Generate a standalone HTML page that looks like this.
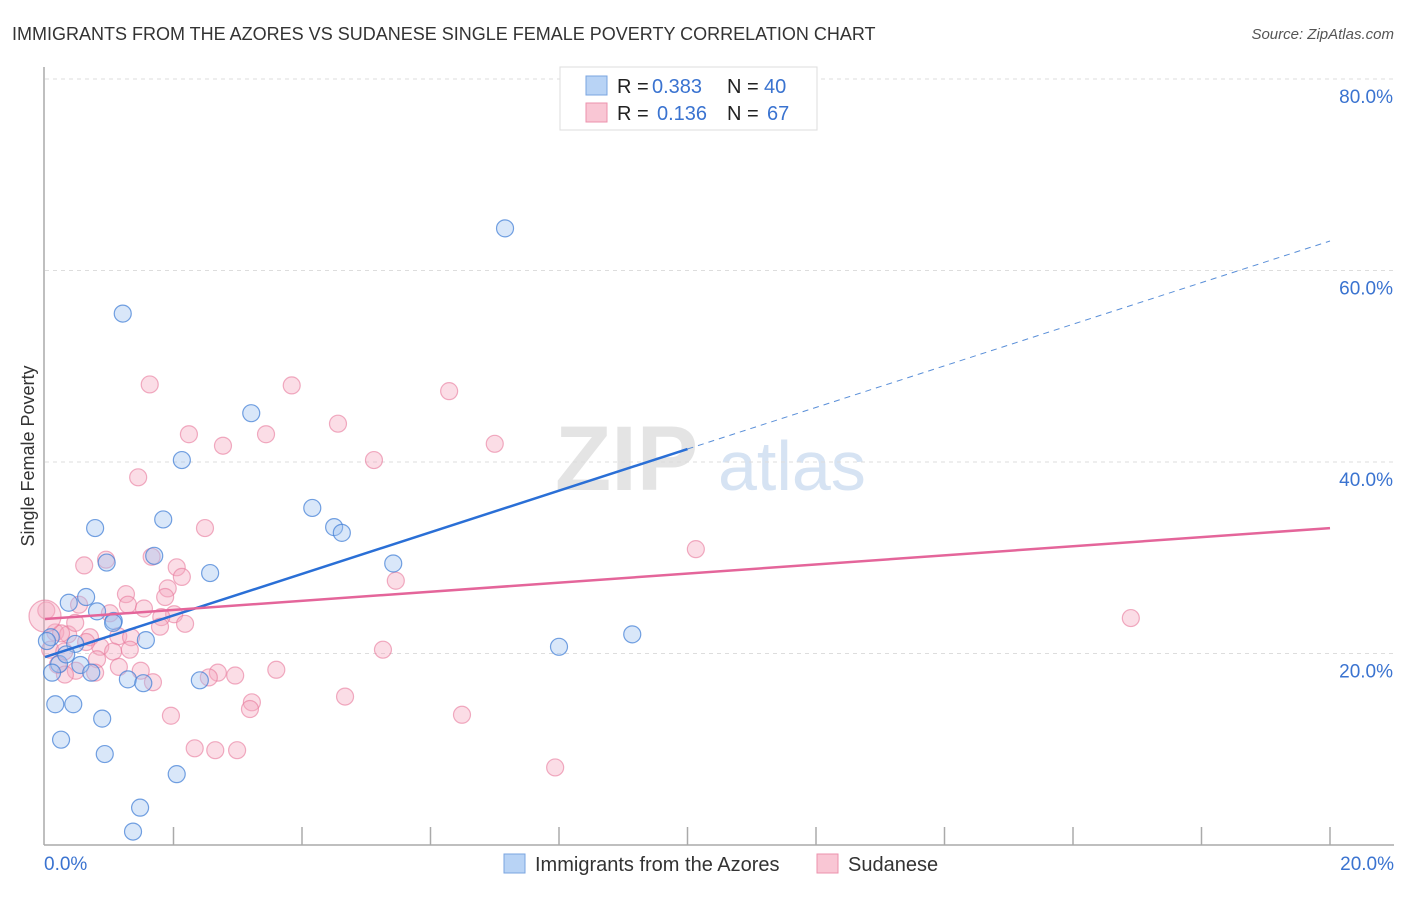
<!DOCTYPE html>
<html><head><meta charset="utf-8">
<style>
body{margin:0;background:#fff;font-family:"Liberation Sans",sans-serif;}
svg text{font-family:"Liberation Sans",sans-serif;}
</style></head>
<body>
<svg id="chart" width="1406" height="892" xmlns="http://www.w3.org/2000/svg">
<text x="12" y="40" font-size="18" fill="#333">IMMIGRANTS FROM THE AZORES VS SUDANESE SINGLE FEMALE POVERTY CORRELATION CHART</text>
<text x="1394" y="39" font-size="15" fill="#555" text-anchor="end" font-style="italic">Source: ZipAtlas.com</text>
<text transform="translate(34,456) rotate(-90)" font-size="18" fill="#333" text-anchor="middle">Single Female Poverty</text>
<g>
<text x="555" y="490" font-size="92" fill="#e4e4e4" font-family="Liberation Serif" font-weight="bold">ZIP</text>
<text x="718" y="490" font-size="70" fill="#d6e3f3">atlas</text>
</g>
<g id="grid"></g>
<g id="axes"></g>
<g id="points"></g>
<g id="trends"></g>
<g>
<rect x="560" y="67" width="257" height="63" fill="#fff" stroke="#ddd"/>
<rect x="586" y="76" width="21" height="19" fill="#b8d3f5" stroke="#7aa5e0"/>
<rect x="586" y="103" width="21" height="19" fill="#f9c6d4" stroke="#ec92ad"/>
<text x="617" y="93" font-size="20" fill="#222">R =</text>
<text x="652" y="93" font-size="20" fill="#3a73d0">0.383</text>
<text x="727" y="93" font-size="20" fill="#222">N =</text>
<text x="764" y="93" font-size="20" fill="#3a73d0">40</text>
<text x="617" y="120" font-size="20" fill="#222">R =</text>
<text x="657" y="120" font-size="20" fill="#3a73d0">0.136</text>
<text x="727" y="120" font-size="20" fill="#222">N =</text>
<text x="767" y="120" font-size="20" fill="#3a73d0">67</text>
</g>
<g>
<rect x="504" y="854" width="21" height="19" fill="#b8d3f5" stroke="#7aa5e0"/>
<text x="535" y="871" font-size="20" fill="#333">Immigrants from the Azores</text>
<rect x="817" y="854" width="21" height="19" fill="#f9c6d4" stroke="#ec92ad"/>
<text x="848" y="871" font-size="20" fill="#333">Sudanese</text>
</g>
</svg>
<script>
const yTicks=[20,40,60,80];
const yTickLabels=["20.0%","40.0%","60.0%","80.0%"];
const xEndLabels=["0.0%","20.0%"];
const azoresX=[1.21,7.16,3.21,2.13,1.84,4.16,4.50,4.62,0.78,1.70,0.96,5.42,2.57,0.64,0.37,0.81,1.07,1.06,1.57,0.09,0.47,0.22,0.55,0.72,0.11,1.29,1.53,2.41,8.00,9.14,0.16,0.44,0.89,0.25,0.93,2.05,1.48,1.37,0.03,0.33];
const azoresY=[55.5,64.4,45.1,40.2,34.0,35.2,33.2,32.6,33.1,30.2,29.5,29.4,28.4,25.9,25.3,24.4,23.4,23.2,21.4,21.7,21.0,18.9,18.8,18.0,18.0,17.3,16.9,17.2,20.7,22.0,14.7,14.7,13.2,11.0,9.5,7.4,3.9,1.4,21.3,19.9];
const sudX=[1.63,3.84,6.29,4.56,2.24,3.44,2.77,7.00,5.12,1.45,2.49,10.13,0.95,1.66,0.61,2.05,2.13,5.46,1.91,1.26,1.87,0.53,1.29,1.54,2.01,1.81,2.18,1.01,0.02,0.16,0.36,0.70,1.14,1.34,1.79,0.86,1.06,0.08,0.30,5.26,16.90,0.20,0.48,0.81,1.15,1.49,0.78,0.31,2.69,2.55,2.96,3.60,1.68,4.67,3.22,3.19,1.96,6.49,2.33,2.65,2.99,7.94,0.25,0.0,0.64,0.47,1.32];
const sudY=[48.1,48.0,47.4,44.0,42.9,42.9,41.7,41.9,40.2,38.4,33.1,30.9,29.8,30.1,29.2,29.0,28.0,27.6,26.8,26.2,25.9,25.1,25.1,24.7,24.1,23.8,23.1,24.2,24.5,22.2,22.0,21.7,21.8,21.7,22.8,20.7,20.2,20.4,20.2,20.4,23.7,18.8,18.2,19.4,18.6,18.2,18.0,17.8,18.0,17.5,17.7,18.3,17.0,15.5,14.9,14.2,13.5,13.6,10.1,9.9,9.9,8.1,22.1,23.9,21.2,23.2,20.4];
const azoresTrend=[19.63,63.08];
const sudTrend=[23.6,33.1];
const NS="http://www.w3.org/2000/svg";
const X0=45,X1=1330,Y0=845,PX20=191.5;
function sx(v){return X0+v/20*(X1-X0);}
function sy(v){return Y0-v/20*PX20;}
function mk(t,a,p){const e=document.createElementNS(NS,t);for(const k in a)e.setAttribute(k,a[k]);p.appendChild(e);return e;}
const grid=document.getElementById('grid');
yTicks.forEach((t,i)=>{
 const l=mk('line',{x1:X0,x2:1394,y1:sy(t),y2:sy(t),stroke:'#ddd','stroke-dasharray':'4,4'},grid);
 
 
 const tx=mk('text',{x:1393,y:sy(t)+24,'font-size':19,fill:'#3a73d0','text-anchor':'end'},grid);
 tx.textContent=yTickLabels[i];
 
 
});
const axes=document.getElementById('axes');
const ya=mk('line',{x1:X0-1,x2:X0-1,y1:67,y2:Y0,stroke:'#aaa','stroke-width':1.5},axes);


const xa=mk('line',{x1:X0-1,x2:1394,y1:Y0,y2:Y0,stroke:'#aaa','stroke-width':1.5},axes);


for(let i=1;i<=10;i++){
 const tk=mk('line',{x1:sx(i*2),x2:sx(i*2),y1:Y0-18,y2:Y0,stroke:'#aaa','stroke-width':1.5},axes);
 
 
}
[[0,'start',44],[20,'end',1394]].forEach((d,i)=>{
 const t=mk('text',{x:d[2],y:870,'font-size':19,fill:'#3a73d0','text-anchor':d[1]},axes);
 t.textContent=xEndLabels[i];
 
 
});
const pts=document.getElementById('points');
sudX.forEach((x,i)=>{
 const c=mk('circle',{cx:sx(x),cy:sy(sudY[i]),r:(i==63?16:8.5),fill:'rgba(246,170,192,0.4)',stroke:'rgba(232,120,155,0.6)','stroke-width':1.2},pts);
 
 
});
azoresX.forEach((x,i)=>{
 const c=mk('circle',{cx:sx(x),cy:sy(azoresY[i]),r:8.5,fill:'rgba(160,195,240,0.4)',stroke:'rgba(70,130,215,0.75)','stroke-width':1.2},pts);
 
 
});
const tr=document.getElementById('trends');
const xm=10;
const ym=azoresTrend[0]+(azoresTrend[1]-azoresTrend[0])*xm/20;
let l1=mk('line',{x1:sx(0),y1:sy(azoresTrend[0]),x2:sx(xm),y2:sy(ym),stroke:'#2a6fd6','stroke-width':2.5},tr);


let l2=mk('line',{x1:sx(xm),y1:sy(ym),x2:sx(20),y2:sy(azoresTrend[1]),stroke:'#5a8fd8','stroke-width':1,'stroke-dasharray':'6,5'},tr);


let l3=mk('line',{x1:sx(0),y1:sy(sudTrend[0]),x2:sx(20),y2:sy(sudTrend[1]),stroke:'#e4659a','stroke-width':2.5},tr);


</script>
</body></html>
